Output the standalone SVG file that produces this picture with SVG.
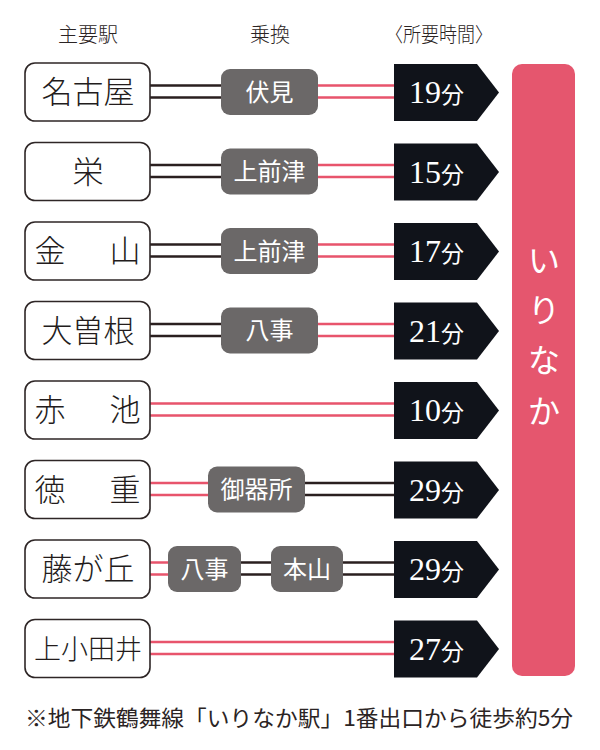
<svg xmlns="http://www.w3.org/2000/svg" xmlns:xlink="http://www.w3.org/1999/xlink" width="600" height="750" viewBox="0 0 600 750">
<style>
.hdr{font-family:"Noto Sans CJK JP","Noto Sans CJK SC",sans-serif;font-size:20px;font-weight:300;fill:#2b2424;text-anchor:middle}
.box{fill:#fff;stroke:#2e2626;stroke-width:1.6}
.stn{font-family:"Noto Sans CJK JP","Noto Sans CJK SC",sans-serif;font-size:31px;font-weight:300;fill:#231c1c;text-anchor:middle}
.pill{fill:#6b6868}
.ptx{font-family:"Noto Sans CJK JP","Noto Sans CJK SC",sans-serif;font-size:24px;fill:#fff;text-anchor:middle}
.arr{fill:#10131a}
.num{font-family:"Liberation Serif",serif;font-size:32px;fill:#fff}
.fun{font-family:"Noto Sans CJK JP","Noto Sans CJK SC",sans-serif;font-size:23px;fill:#fff}
.dk{stroke:#2a1f1f;stroke-width:2.5;fill:none}
.pk{stroke:#e8546c;stroke-width:2.5;fill:none}
.foot{font-family:"Noto Sans CJK JP","Noto Sans CJK SC",sans-serif;font-size:22px;fill:#2b2424}
</style>
<defs>
<path id="arrow" d="M0 0H83L105 28.5L83 57H0Z"/>
</defs>
<rect width="600" height="750" fill="#fff"/>
<g id="headers">
<text class="hdr" x="88" y="42">主要駅</text>
<text class="hdr" x="270" y="42">乗換</text>
<text class="hdr" x="439" y="42" textLength="108" lengthAdjust="spacingAndGlyphs">〈所要時間〉</text>
</g>
<g id="connectors">
<path class="dk" d="M150 85.5H221M150 97.5H221"/>
<path class="pk" d="M318 85.5H394M318 97.5H394"/>
<path class="dk" d="M150 165H221M150 177H221"/>
<path class="pk" d="M318 165H394M318 177H394"/>
<path class="dk" d="M150 244.5H221M150 256.5H221"/>
<path class="pk" d="M318 244.5H394M318 256.5H394"/>
<path class="dk" d="M150 324H221M150 336H221"/>
<path class="pk" d="M318 324H394M318 336H394"/>
<path class="pk" d="M150 403.5H394M150 415.5H394"/>
<path class="pk" d="M150 483H208M150 495H208"/>
<path class="dk" d="M305 483H394M305 495H394"/>
<path class="pk" d="M150 562.5H168M150 574.5H168"/>
<path class="dk" d="M241 562.5H271M241 574.5H271"/>
<path class="dk" d="M343 562.5H394M343 574.5H394"/>
<path class="pk" d="M150 642H394M150 654H394"/>
</g>
<g id="station-nagoya">
<rect class="box" x="25" y="63" width="125" height="58" rx="10"/>
<text class="stn" x="88" y="103">名古屋</text>
</g>
<g id="station-sakae">
<rect class="box" x="25" y="142.5" width="125" height="58" rx="10"/>
<text class="stn" x="88" y="182.5">栄</text>
</g>
<g id="station-kanayama">
<rect class="box" x="25" y="222" width="125" height="58" rx="10"/>
<text class="stn" x="50 125" y="262">金山</text>
</g>
<g id="station-ozone">
<rect class="box" x="25" y="301.5" width="125" height="58" rx="10"/>
<text class="stn" x="88" y="341.5">大曽根</text>
</g>
<g id="station-akaike">
<rect class="box" x="25" y="381" width="125" height="58" rx="10"/>
<text class="stn" x="50 125" y="421">赤池</text>
</g>
<g id="station-tokushige">
<rect class="box" x="25" y="460.5" width="125" height="58" rx="10"/>
<text class="stn" x="50 125" y="500.5">徳重</text>
</g>
<g id="station-fujigaoka">
<rect class="box" x="25" y="540" width="125" height="58" rx="10"/>
<text class="stn" x="88" y="580">藤が丘</text>
</g>
<g id="station-kamiotai">
<rect class="box" x="25" y="619.5" width="125" height="58" rx="10"/>
<text class="stn" x="88" y="659" style="font-size:27px">上小田井</text>
</g>
<g id="transfer-fushimi">
<rect class="pill" x="221" y="69" width="97" height="46" rx="9"/>
<text class="ptx" x="269.5" y="100.5">伏見</text>
</g>
<g id="transfer-kamimaezu-1">
<rect class="pill" x="221" y="148.5" width="97" height="46" rx="9"/>
<text class="ptx" x="269.5" y="180">上前津</text>
</g>
<g id="transfer-kamimaezu-2">
<rect class="pill" x="221" y="228" width="97" height="46" rx="9"/>
<text class="ptx" x="269.5" y="259.5">上前津</text>
</g>
<g id="transfer-yagoto-1">
<rect class="pill" x="221" y="307.5" width="97" height="46" rx="9"/>
<text class="ptx" x="269.5" y="339">八事</text>
</g>
<g id="transfer-gokiso">
<rect class="pill" x="208" y="466.5" width="97" height="46" rx="9"/>
<text class="ptx" x="256.5" y="498">御器所</text>
</g>
<g id="transfer-yagoto-2">
<rect class="pill" x="168" y="546" width="73" height="46" rx="9"/>
<text class="ptx" x="204.5" y="577.5">八事</text>
</g>
<g id="transfer-motoyama">
<rect class="pill" x="271" y="546" width="72" height="46" rx="9"/>
<text class="ptx" x="307" y="577.5">本山</text>
</g>
<g id="time-1">
<use xlink:href="#arrow" class="arr" x="394" y="64"/>
<text x="409" y="103"><tspan class="num">19</tspan><tspan class="fun">分</tspan></text>
</g>
<g id="time-2">
<use xlink:href="#arrow" class="arr" x="394" y="143.5"/>
<text x="409" y="182.5"><tspan class="num">15</tspan><tspan class="fun">分</tspan></text>
</g>
<g id="time-3">
<use xlink:href="#arrow" class="arr" x="394" y="223"/>
<text x="409" y="262"><tspan class="num">17</tspan><tspan class="fun">分</tspan></text>
</g>
<g id="time-4">
<use xlink:href="#arrow" class="arr" x="394" y="302.5"/>
<text x="409" y="341.5"><tspan class="num">21</tspan><tspan class="fun">分</tspan></text>
</g>
<g id="time-5">
<use xlink:href="#arrow" class="arr" x="394" y="382"/>
<text x="409" y="421"><tspan class="num">10</tspan><tspan class="fun">分</tspan></text>
</g>
<g id="time-6">
<use xlink:href="#arrow" class="arr" x="394" y="461.5"/>
<text x="409" y="500.5"><tspan class="num">29</tspan><tspan class="fun">分</tspan></text>
</g>
<g id="time-7">
<use xlink:href="#arrow" class="arr" x="394" y="541"/>
<text x="409" y="580"><tspan class="num">29</tspan><tspan class="fun">分</tspan></text>
</g>
<g id="time-8">
<use xlink:href="#arrow" class="arr" x="394" y="620.5"/>
<text x="409" y="659.5"><tspan class="num">27</tspan><tspan class="fun">分</tspan></text>
</g>
<g id="destination-irinaka">
<rect x="512" y="64" width="63" height="612" rx="10" fill="#e5566e"/>
<g font-family="'Noto Sans CJK JP','Noto Sans CJK SC',sans-serif" font-size="32" fill="#fff" text-anchor="middle">
<text x="544" y="272">い</text>
<text x="544" y="322">り</text>
<text x="544" y="372">な</text>
<text x="544" y="423">か</text>
</g>
</g>
<text class="foot" x="25" y="726" textLength="548" lengthAdjust="spacingAndGlyphs">※地下鉄鶴舞線「いりなか駅」1番出口から徒歩約5分</text>
</svg>
